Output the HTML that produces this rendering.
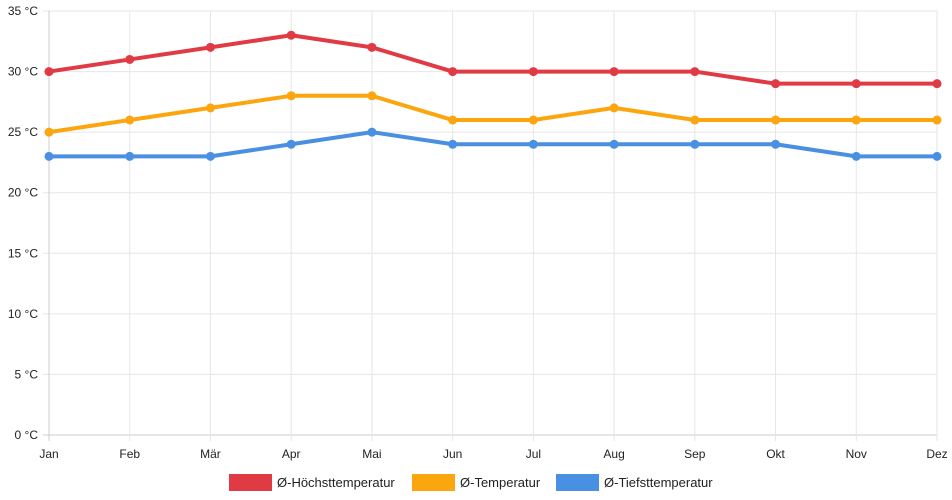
<!DOCTYPE html>
<html><head><meta charset="utf-8"><style>
html,body{margin:0;padding:0;background:#fff;}
svg{display:block;font-family:"Liberation Sans",sans-serif;}
</style></head><body>
<svg id="chart" width="952" height="500" viewBox="0 0 952 500"></svg>
<script>
const months=["Jan","Feb","Mär","Apr","Mai","Jun","Jul","Aug","Sep","Okt","Nov","Dez"];
const highTemps=[30,31,32,33,32,30,30,30,30,29,29,29];
const avgTemps=[25,26,27,28,28,26,26,27,26,26,26,26];
const lowTemps=[23,23,23,24,25,24,24,24,24,24,23,23];
const yTicks=[0,5,10,15,20,25,30,35];
const seriesNames=["Ø-Höchsttemperatur","Ø-Temperatur","Ø-Tiefsttemperatur"];

const svg=document.getElementById('chart');
const NS="http://www.w3.org/2000/svg";
const x0=49,x1=937,yBase=435,yTop=11,yMax=35;
function xs(i){return x0+i*(x1-x0)/(months.length-1);}
function ys(v){return yBase-v*(yBase-yTop)/yMax;}
function mk(tag,attrs,parent){const e=document.createElementNS(NS,tag);for(const k in attrs)e.setAttribute(k,attrs[k]);(parent||svg).appendChild(e);return e;}

const grid=mk('g',{});


yTicks.forEach(t=>{
  const y=ys(t);
  const l=mk('line',{x1:43,x2:x1,y1:y,y2:y,stroke:t===0?'#ccc':'#e6e6e6','stroke-width':1},grid);
  
  
  const tx=mk('text',{x:38,y:y+4,'text-anchor':'end','font-size':12,fill:'#222'},svg);
  tx.textContent=t+' °C';
  
  
});
months.forEach((m,i)=>{
  const x=xs(i);
  const l=mk('line',{x1:x,x2:x,y1:yTop,y2:yBase+6,stroke:i===0?'#ccc':'#e6e6e6','stroke-width':1},grid);
  
  
  const tx=mk('text',{x:x,y:458,'text-anchor':'middle','font-size':12,fill:'#222'},svg);
  tx.textContent=m;
  
  
});

const colors=["#e03a45","#fca60f","#4a90e2"];
[highTemps,avgTemps,lowTemps].forEach((data,si)=>{
  const g=mk('g',{});
  
  
  const pts=data.map((v,i)=>xs(i)+','+ys(v)).join(' ');
  const pl=mk('polyline',{points:pts,fill:'none',stroke:colors[si],'stroke-width':4,'stroke-linejoin':'round'},g);
  
  
  data.forEach((v,i)=>{
    const c=mk('circle',{cx:xs(i),cy:ys(v),r:4.5,fill:colors[si]},g);
    
    
  });
});

const legendX=[229,412,556];
seriesNames.forEach((n,i)=>{
  const g=mk('g',{});
  
  
  mk('rect',{x:legendX[i],y:474,width:43,height:17,fill:colors[i]},g);
  const t=mk('text',{x:legendX[i]+48,y:487,'font-size':13,fill:'#222'},g);
  t.textContent=n;
});
</script>
</body></html>
